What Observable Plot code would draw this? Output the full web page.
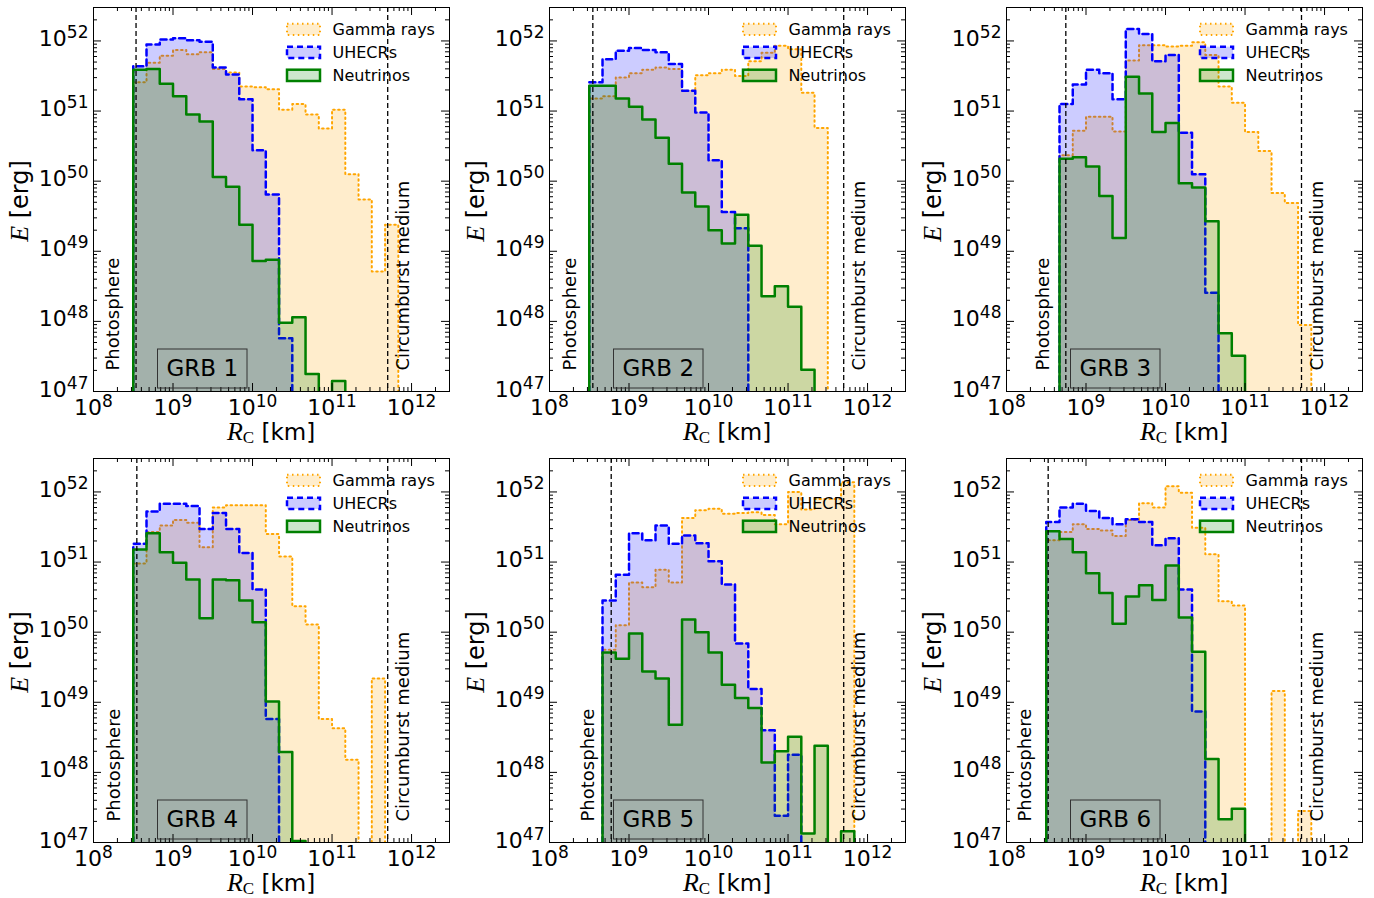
<!DOCTYPE html>
<html><head><meta charset="utf-8">
<script src="https://cdn.jsdelivr.net/npm/d3@7"></script>
<script src="https://cdn.jsdelivr.net/npm/@observablehq/plot@0.6"></script>
<style>
body{margin:0;background:#fff;}
#root{position:relative;width:1374px;height:898px;overflow:hidden;background:#fff;}
#root svg{position:absolute;overflow:visible;}
</style></head><body><div id="root"></div>
<script>
// ---- DATA (log10 values) ----
const binEdgesLog = [8.5, 8.6667, 8.8333, 9.0, 9.1667, 9.3333, 9.5, 9.6667, 9.8333, 10.0, 10.1667,
  10.3333, 10.5, 10.6667, 10.8333, 11.0, 11.1667, 11.3333, 11.5, 11.6667, 11.8333, 12.0];
const grbNames = ["GRB 1", "GRB 2", "GRB 3", "GRB 4", "GRB 5", "GRB 6"];
const firstBin = [0, 0, 1, 0, 1, 0];
const photosphereLog = [8.535, 8.545, 8.746, 8.545, 8.776, 8.524];
const circumburstLog = [11.70, 11.70, 11.71, 11.70, 11.70, 11.71];
const xMajor = [1e8, 1e9, 1e10, 1e11, 1e12];
const yMajor = [1e47, 1e48, 1e49, 1e50, 1e51, 1e52];

const gammaLog1 = [51.41, 51.69, 51.79, 51.87, 51.81, 51.84, 51.60, 51.55, 51.35, 51.34, 51.31, 51.02, 51.10, 50.95, 50.75, 51.02, 50.10, 49.74, 48.71, 49.38];
const uhecrLog1 = [51.64, 51.95, 52.02, 52.04, 52.01, 51.99, 51.62, 51.52, 51.17, 50.44, 49.81, 47.76];
const nuLog1 = [51.59, 51.60, 51.39, 51.21, 50.95, 50.85, 50.06, 49.92, 49.38, 48.86, 48.88, 47.98, 48.06, 47.25, null, 47.15];

const gammaLog2 = [51.18, 51.21, 51.48, 51.54, 51.59, 51.62, 51.60, 51.29, 51.51, 51.54, 51.59, 51.50, 51.71, 51.83, 51.93, 51.88, 51.26, 50.76];
const uhecrLog2 = [51.41, 51.74, 51.86, 51.90, 51.87, 51.84, 51.67, 51.29, 50.98, 50.30, 49.56, 49.33];
const nuLog2 = [51.36, 51.36, 51.18, 51.06, 50.88, 50.62, 50.25, 49.84, 49.64, 49.30, 49.11, 49.52, 49.08, 48.36, 48.50, 48.21, 47.31];

const gammaLog3 = [50.37, 50.72, 50.92, 50.92, 50.71, 51.72, 51.94, 51.94, 51.92, 51.93, 51.98, 51.80, 51.35, 51.12, 50.70, 50.43, 49.83, 49.69, 47.95];
const uhecrLog3 = [51.10, 51.38, 51.59, 51.54, 51.17, 52.17, 52.10, 51.71, 51.80, 50.69, 50.10, 48.41];
const nuLog3 = [50.32, 50.34, 50.21, 49.79, 49.19, 51.49, 51.25, 50.70, 50.83, 49.97, 49.91, 49.43, 47.83, 47.51];

const gammaLog4 = [50.98, 51.43, 51.52, 51.60, 51.56, 51.21, 51.78, 51.81, 51.81, 51.81, 51.40, 51.08, 50.37, 50.11, 48.76, 48.63, 48.18, null, 49.34];
const uhecrLog4 = [51.26, 51.72, 51.83, 51.83, 51.80, 51.47, 51.70, 51.47, 51.13, 50.61, 48.76];
const nuLog4 = [51.18, 51.41, 51.14, 50.99, 50.75, 50.20, 50.75, 50.74, 50.45, 50.14, 49.01, 48.29, 47.02];

const gammaLog5 = [49.75, 50.10, 50.71, 50.64, 50.89, 50.71, 51.63, 51.74, 51.76, 51.69, 51.70, 51.71, 51.67, 51.54, 52.00, 51.75, 51.90, 51.90, 52.14];
const uhecrLog5 = [50.45, 50.82, 51.41, 51.31, 51.52, 51.26, 51.38, 51.27, 51.01, 50.68, 49.84, 49.19, 48.60, 47.38, 48.25];
const nuLog5 = [49.71, 49.62, 49.98, 49.44, 49.34, 48.68, 50.18, 50.00, 49.71, 49.25, 49.06, 48.92, 48.14, 48.30, 48.51, 47.13, 48.38, null, 47.16];

const gammaLog6 = [51.31, 51.43, 51.54, 51.47, 51.45, 51.37, 51.60, 51.84, 51.78, 52.08, 51.99, 51.49, 51.11, 50.44, 50.38, null, null, 49.16, null, 47.45];
const uhecrLog6 = [51.57, 51.78, 51.83, 51.73, 51.63, 51.54, 51.61, 51.57, 51.24, 51.34, 50.61, 48.87];
const nuLog6 = [51.44, 51.33, 51.14, 50.84, 50.56, 50.12, 50.51, 50.67, 50.46, 50.95, 50.21, 49.72, 48.19, 47.33, 47.48];

const gammaSets = [gammaLog1, gammaLog2, gammaLog3, gammaLog4, gammaLog5, gammaLog6];
const uhecrSets = [uhecrLog1, uhecrLog2, uhecrLog3, uhecrLog4, uhecrLog5, uhecrLog6];
const nuSets = [nuLog1, nuLog2, nuLog3, nuLog4, nuLog5, nuLog6];

const seriesNames = ["Gamma rays", "UHECRs", "Neutrinos"];
const seriesColors = ["#FFA500", "#0000FF", "#008000"];
const seriesDash = ["1.5,3.5", "6,4", null];
const seriesWidth = [2, 2.5, 2.5];

// ---- LAYOUT ----
const W = 455, H = 451, ML = 93, MR = 6, MT = 7, MB = 60;
const FW = W - ML - MR, FH = H - MT - MB;
const FLOOR = 1e40;
const ns = "http://www.w3.org/2000/svg";

function steps(start, logs) {
  const pts = [{x: 10 ** binEdgesLog[start], y: FLOOR}];
  logs.forEach((v, i) => {
    const k = start + i;
    const y = v == null ? FLOOR : 10 ** v;
    pts.push({x: 10 ** binEdgesLog[k], y}, {x: 10 ** binEdgesLog[k + 1], y});
  });
  pts.push({x: 10 ** binEdgesLog[start + logs.length], y: FLOOR});
  return pts;
}
function minorTicks(lo, hi, max) {
  const out = [];
  for (let e = lo; e <= hi; e++) for (let m = 2; m <= 9; m++) { const v = m * 10 ** e; if (v <= max) out.push(v); }
  return out;
}
const xMinor = minorTicks(8, 12, 3e12);
const yMinor = minorTicks(47, 52, 3e52);
const fmt = d => "10^" + Math.round(Math.log10(d));

const root = document.getElementById("root");
for (let p = 0; p < 6; p++) {
  const start = firstBin[p];
  const sets = [gammaSets[p], uhecrSets[p], nuSets[p]];
  const histMarks = [];
  sets.forEach((logs, s) => {
    const pts = steps(start, logs);
    histMarks.push(Plot.area(pts, {x1: "x", y1: () => FLOOR, y2: "y", fill: seriesColors[s], fillOpacity: 0.2, clip: true}));
    histMarks.push(Plot.line(pts, {x: "x", y: "y", stroke: seriesColors[s], strokeWidth: seriesWidth[s],
      strokeDasharray: seriesDash[s] ?? undefined, clip: true}));
  });
  const photo = 10 ** photosphereLog[p], cbm = 10 ** circumburstLog[p];
  const plot = Plot.plot({
    width: W, height: H, marginLeft: ML, marginRight: MR, marginTop: MT, marginBottom: MB,
    x: {type: "log", domain: [1e8, 3e12], label: null},
    y: {type: "log", domain: [1e47, 3e52], label: null},
    style: {fontFamily: "DejaVu Sans", background: "transparent", color: "black"},
    marks: [
      ...histMarks,
      Plot.ruleX([photo, cbm], {x: d => d, stroke: "black", strokeWidth: 1.3, strokeDasharray: "5,3"}),
      Plot.text(["Photosphere"], {x: () => photo, y: () => 1e47, text: d => d, rotate: -90, textAnchor: "start",
        lineAnchor: "bottom", dx: -17, dy: -21, fontSize: 18, fill: "black"}),
      Plot.text(["Circumburst medium"], {x: () => cbm, y: () => 1e47, text: d => d, rotate: -90, textAnchor: "start",
        lineAnchor: "bottom", dx: 21, dy: -21, fontSize: 18, fill: "black"}),
      Plot.tickX(xMajor, {x: d => d, insetTop: FH - 8, stroke: "black"}),
      Plot.tickX(xMajor, {x: d => d, insetBottom: FH - 8, stroke: "black"}),
      Plot.tickX(xMinor, {x: d => d, insetTop: FH - 4, stroke: "black"}),
      Plot.tickX(xMinor, {x: d => d, insetBottom: FH - 4, stroke: "black"}),
      Plot.tickY(yMajor, {y: d => d, insetRight: FW - 8, stroke: "black"}),
      Plot.tickY(yMajor, {y: d => d, insetLeft: FW - 8, stroke: "black"}),
      Plot.tickY(yMinor, {y: d => d, insetRight: FW - 4, stroke: "black"}),
      Plot.tickY(yMinor, {y: d => d, insetLeft: FW - 4, stroke: "black"}),
      Plot.frame({stroke: "black", strokeWidth: 1}),
      Plot.axisX(xMajor, {tickSize: 0, tickPadding: 8, tickFormat: fmt, fontSize: 22, label: null}),
      Plot.axisY(yMajor, {tickSize: 0, tickPadding: 5, tickFormat: fmt, fontSize: 22, dy: -2, label: null})
    ]
  });
  const col = p % 3, row = Math.floor(p / 3);
  plot.style.left = [0, 456, 913][col] + "px";
  plot.style.top = [0, 451][row] + "px";
  root.appendChild(plot);

  // superscript tick labels
  plot.querySelectorAll("text").forEach(t => {
    const m = /^10\^(\d+)$/.exec(t.textContent);
    if (!m) return;
    t.textContent = "";
    const b = document.createElementNS(ns, "tspan"); b.textContent = "10";
    const s = document.createElementNS(ns, "tspan"); s.textContent = m[1];
    s.setAttribute("font-size", "17"); s.setAttribute("dy", "-8");
    t.appendChild(b); t.appendChild(s);
  });

  const svg = d3.select(plot);
  // axis labels
  const yl = svg.append("text").attr("transform", `translate(28,${MT + FH / 2 + 2}) rotate(-90)`)
    .attr("text-anchor", "middle").attr("font-size", 24).attr("fill", "black");
  yl.append("tspan").attr("font-family", "Liberation Serif").attr("font-style", "italic").attr("font-size", 26).text("E");
  yl.append("tspan").attr("font-family", "DejaVu Sans").text(" [erg]");
  const xl = svg.append("text").attr("x", ML + FW / 2).attr("y", MT + FH + 49)
    .attr("text-anchor", "middle").attr("font-size", 23).attr("fill", "black");
  xl.append("tspan").attr("font-family", "Liberation Serif").attr("font-style", "italic").attr("font-size", 26).text("R");
  xl.append("tspan").attr("font-family", "Liberation Serif").attr("font-size", 17).attr("dy", 3).text("C");
  xl.append("tspan").attr("font-family", "DejaVu Sans").attr("dy", -3).text(" [km]");

  // legend
  const lg = svg.append("g").attr("text-anchor", "start");
  seriesNames.forEach((name, s) => {
    const y0 = MT + 16.7 + s * 23;
    lg.append("rect").attr("x", ML + 194).attr("y", y0).attr("width", 33).attr("height", 11.3)
      .attr("fill", seriesColors[s]).attr("fill-opacity", 0.2)
      .attr("stroke", seriesColors[s]).attr("stroke-width", seriesWidth[s])
      .attr("stroke-dasharray", seriesDash[s]);
    lg.append("text").attr("x", ML + 239.5).attr("y", y0 + 5.65).attr("dy", "0.35em")
      .attr("text-anchor", "start")
      .attr("font-family", "DejaVu Sans").attr("font-size", 16).attr("fill", "black").text(name);
  });

  // GRB label box
  svg.append("rect").attr("x", ML + 64.5).attr("y", MT + 342).attr("width", 89.5).attr("height", 39)
    .attr("fill", "none").attr("stroke", "#333").attr("stroke-width", 1);
  svg.append("text").attr("x", ML + 109.3).attr("y", MT + 369).attr("text-anchor", "middle")
    .attr("font-family", "DejaVu Sans").attr("font-size", 23).attr("fill", "black").text(grbNames[p]);
}
</script></body></html>
